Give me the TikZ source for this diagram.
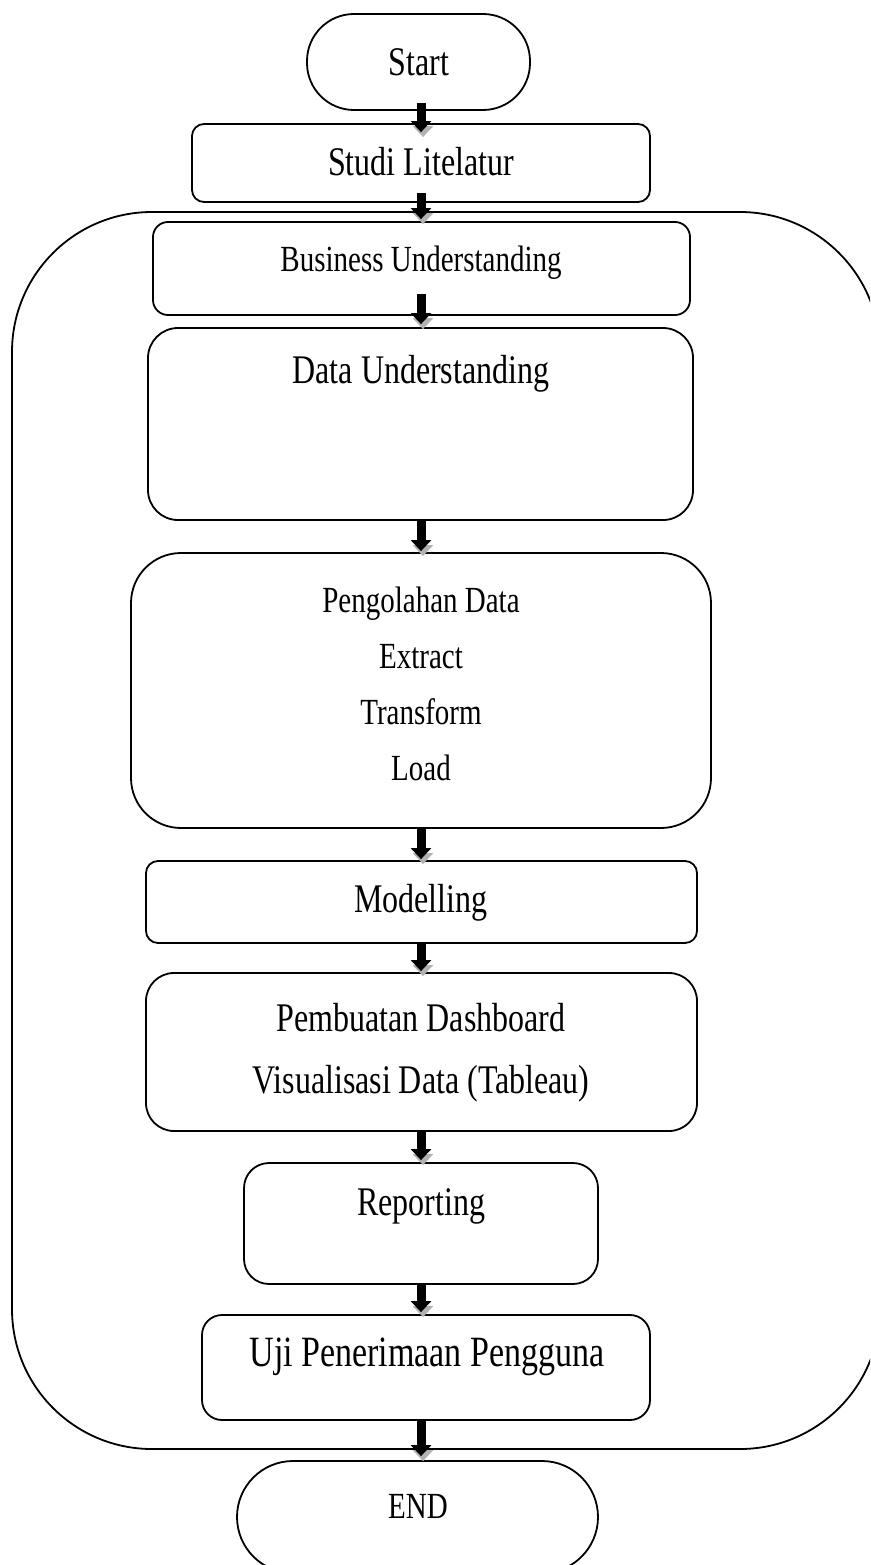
\documentclass[tikz,border=0pt]{standalone}
\usepackage{fontspec}
\setmainfont{Liberation Serif}
\usetikzlibrary{calc,arrows.meta}

\newcommand{\bigtxt}{\fontsize{32}{38}\selectfont}
\newcommand{\smalltxt}{\fontsize{29}{35}\selectfont}
\newcommand{\ujitxt}{\fontsize{34}{40}\selectfont}

\tikzset{
  box/.style={draw, line width=1.8pt, inner sep=0pt, rounded corners=#1},
  lbl/.style={inner sep=0pt, yscale=1.27, text height=0.7em, text depth=0.2em, font=\bigtxt},
  slbl/.style={lbl, font=\smalltxt},
  flow/.style={line width=9pt, -{Triangle[width=20pt,length=11pt]},
    preaction={draw=gray!60, transform canvas={xshift=2pt,yshift=-5pt}}}
}

\begin{document}
\begin{tikzpicture}[x=1pt,y=-1pt]
\useasboundingbox (0,0) rectangle (870,1565);
\clip (0,0) rectangle (870,1565);
\coordinate (axis) at (421,0);
% outer frame
\draw[line width=1.8pt, rounded corners=140] (12,212) rectangle (880,1449);
% boxes
\node[box=47, minimum width=223, minimum height=96] (start) at (418.5,62) {};
\node[box=12, minimum width=458, minimum height=78] (studi) at (421,163) {};
\node[box=15, minimum width=537, minimum height=93] (bu) at (421.5,268.5) {};
\node[box=30, minimum width=545, minimum height=192] (du) at (420.5,424) {};
\node[box=50, minimum width=580, minimum height=275] (peng) at (421,690.5) {};
\node[box=12, minimum width=551, minimum height=82] (model) at (421.5,902) {};
\node[box=28, minimum width=551, minimum height=158] (pemb) at (421.5,1052) {};
\node[box=25, minimum width=354, minimum height=121] (rep) at (421,1223.5) {};
\node[box=20, minimum width=448, minimum height=105] (uji) at (426,1367.5) {};
\node[box=56, minimum width=361, minimum height=112] (end) at (417.5,1517) {};
% texts
\node[lbl] (start-t) at (419,72) {Start};
\node[lbl] (studi-t) at (421,172) {Studi Litelatur};
\node[slbl] (bu-t) at (421,268) {Business Understanding};
\node[lbl] (du-t) at (421,380) {Data Understanding};
\foreach \t [count=\i] in {Pengolahan Data,Extract,Transform,Load}
\node[slbl] (peng-\i) at (421,553+56*\i) {\t};
\node[lbl] (model-t) at (421,909) {Modelling};
\node[lbl] (pemb-1) at (421,1028) {Pembuatan Dashboard};
\node[lbl] (pemb-2) at (421,1090) {Visualisasi Data (Tableau)};
\node[lbl] (rep-t) at (421,1212) {Reporting};
\node[lbl, font=\ujitxt] (uji-t) at (427,1363) {Uji Penerimaan Pengguna};
\node[slbl] (end-t) at (418,1515) {END};
% arrows
\foreach \a/\b/\u/\d in {start/studi/8/9,studi/bu/10/-2,bu/du/22/-3,du/peng/0/-1,peng/model/0/-1,model/pemb/0/-1,pemb/rep/0/-2,rep/uji/0/-2,uji/end/0/-4}
\draw[flow] ($(\a.south -| axis)+(0,-\u)$) -- ($(\b.north -| axis)+(0,\d)$);
\end{tikzpicture}
\end{document}
